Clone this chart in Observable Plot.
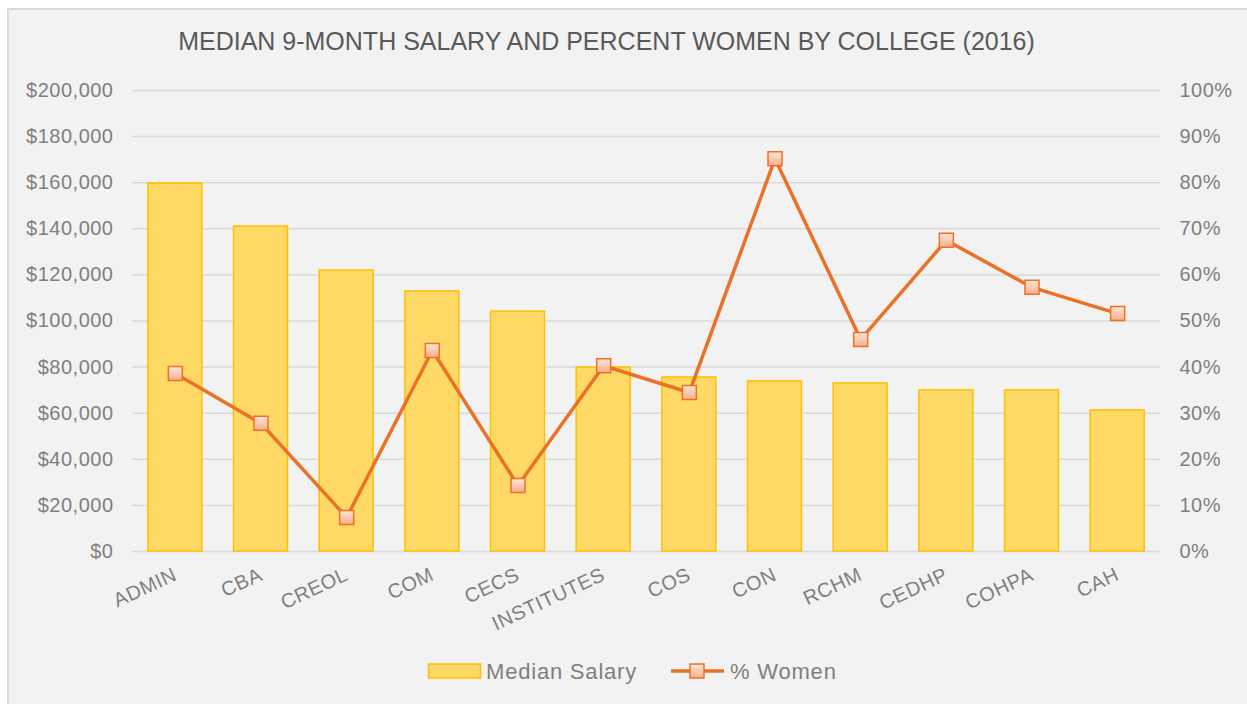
<!DOCTYPE html>
<html>
<head>
<meta charset="utf-8">
<script src="https://cdn.jsdelivr.net/npm/d3@7"></script>
<script src="https://cdn.jsdelivr.net/npm/@observablehq/plot@0.6"></script>
<style>
  html, body { margin: 0; padding: 0; background: #ffffff; }
  #wrap { position: relative; width: 1247px; height: 704px; overflow: hidden; font-family: "Liberation Sans", Arial, sans-serif; }
  #box { position: absolute; left: 7px; top: 8px; width: 1260px; height: 720px; background: #f2f2f2; border: 2px solid #d9d9d9; box-sizing: border-box; }
  #title { position: absolute; left: 0; width: 1213px; top: 27px; text-align: center; font-size: 25px; color: #595959; white-space: nowrap; }
  #chart { position: absolute; left: 0; top: 0; }
  #legend { position: absolute; left: 0; top: 0; width: 1247px; height: 704px; pointer-events: none; }
</style>
</head>
<body>
<div id="wrap">
  <div id="box"></div>
  <div id="title">MEDIAN 9-MONTH SALARY AND PERCENT WOMEN BY COLLEGE (2016)</div>
  <div id="chart"></div>
  <svg id="legend" width="1247" height="704"></svg>
</div>
<script>
const colleges = ["ADMIN","CBA","CREOL","COM","CECS","INSTITUTES","COS","CON","RCHM","CEDHP","COHPA","CAH"];
const medianSalary = [159700,141000,121900,112800,104100,79800,75500,73800,72900,69900,69900,61200];
const pctWomen = [38.6,27.8,7.4,43.6,14.3,40.3,34.5,85.2,46.0,67.5,57.3,51.6];
const salaryTicks = d3.range(0, 200001, 20000);
const pctTicks = d3.range(0, 101, 10);
const seriesNames = ["Median Salary", "% Women"];

const PCT_TO_SAL = 2000; // 100% on right axis aligns with $200,000 on left axis
const data = colleges.map((c, i) => ({college: c, salary: medianSalary[i], pct: pctWomen[i]}));

const LINE = "#eb7126";
const chart = Plot.plot({
  width: 1247,
  height: 704,
  marginLeft: 132,
  marginRight: 87,
  marginTop: 90,
  marginBottom: 153,
  style: {background: "transparent", fontFamily: "'Liberation Sans', Arial, sans-serif", fontSize: "20px", letterSpacing: "0.5px", color: "#7f7f7f", overflow: "visible"},
  x: {domain: colleges, paddingInner: 0.37, paddingOuter: 0.185, round: false, axis: null},
  y: {domain: [0, 200000], axis: null},
  marks: [
    Plot.ruleY(salaryTicks, {stroke: "#d9d9d9", strokeWidth: 1.5}),
    Plot.axisY(salaryTicks, {anchor: "left", label: null, tickSize: 0, tickPadding: 19, tickFormat: d => "$" + d3.format(",")(d), fill: "#7f7f7f"}),
    Plot.axisY(pctTicks.map(p => p * PCT_TO_SAL), {anchor: "right", label: null, tickSize: 0, tickPadding: 19, tickFormat: d => (d / PCT_TO_SAL) + "%", fill: "#7f7f7f"}),
    Plot.barY(data, {x: "college", y: "salary", fill: "#ffd966", stroke: "#ffc000", strokeWidth: 1.5}),
    Plot.line(data, {x: "college", y: d => d.pct * PCT_TO_SAL, stroke: LINE, strokeWidth: 3.5}),
    Plot.dot(data, {x: "college", y: d => d.pct * PCT_TO_SAL, symbol: "square", r: 7.9, fill: "url(#mkgrad)", stroke: LINE, strokeWidth: 1.5}),
    Plot.axisX({label: null, tickSize: 0, tickPadding: 22, tickRotate: -25, fill: "#7f7f7f"})
  ]
});

// gradient for markers
const svg = d3.select(chart);
const defs = svg.insert("defs", ":first-child");
const g = defs.append("linearGradient").attr("id", "mkgrad").attr("x1", 0).attr("y1", 0).attr("x2", 0).attr("y2", 1);
g.append("stop").attr("offset", "0%").attr("stop-color", "#fde6da");
g.append("stop").attr("offset", "100%").attr("stop-color", "#f8ad8a");
document.getElementById("chart").appendChild(chart);

// legend
const lg = d3.select("#legend");
const ldefs = lg.append("defs");
const g2 = ldefs.append("linearGradient").attr("id", "mkgrad2").attr("x1", 0).attr("y1", 0).attr("x2", 0).attr("y2", 1);
g2.append("stop").attr("offset", "0%").attr("stop-color", "#fde6da");
g2.append("stop").attr("offset", "100%").attr("stop-color", "#f8ad8a");
const FONT = "'Liberation Sans', Arial, sans-serif";
lg.append("rect").attr("x", 428.5).attr("y", 664).attr("width", 52).attr("height", 14).attr("fill", "#ffd966").attr("stroke", "#ffc000").attr("stroke-width", 1.5);
lg.append("text").attr("x", 486).attr("y", 679).attr("font-size", 22).attr("letter-spacing", "0.8px").attr("fill", "#7f7f7f").attr("font-family", FONT).text(seriesNames[0]);
lg.append("line").attr("x1", 671).attr("x2", 724).attr("y1", 671).attr("y2", 671).attr("stroke", LINE).attr("stroke-width", 3.5);
lg.append("rect").attr("x", 690).attr("y", 664).attr("width", 14).attr("height", 14).attr("fill", "url(#mkgrad2)").attr("stroke", LINE).attr("stroke-width", 1.5);
lg.append("text").attr("x", 730).attr("y", 679).attr("font-size", 22).attr("letter-spacing", "0.8px").attr("fill", "#7f7f7f").attr("font-family", FONT).text(seriesNames[1]);
</script>
</body>
</html>
